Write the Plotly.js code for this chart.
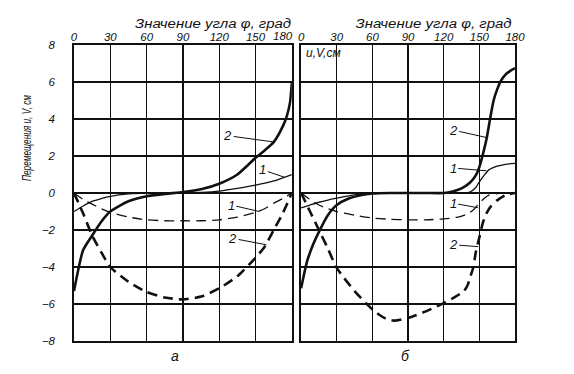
<!DOCTYPE html>
<html><head><meta charset="utf-8">
<script src="https://cdn.plot.ly/plotly-3.0.1.min.js"></script>
<style>body{margin:0;background:#fff}#c{width:574px;height:374px}</style>
</head><body><div id="c"></div>
<script>
// Panel а
const angA = [0, 7.5, 15, 22.5, 30, 45, 60, 75, 90, 105, 120, 135, 150, 157.5, 165, 172.5, 176, 178.5, 180];
const uA2  = [-5.3, -3.1, -2.3, -1.55, -1.0, -0.45, -0.18, -0.05, 0.05, 0.2, 0.5, 1.0, 1.9, 2.3, 2.75, 3.6, 4.2, 4.9, 6.0];
const angA1 = [0, 7.5, 15, 22.5, 30, 45, 60, 75, 90, 105, 120, 135, 150, 165, 180];
const uA1  = [-1.0, -0.7, -0.45, -0.3, -0.18, -0.05, 0.0, 0.0, 0.0, 0.03, 0.1, 0.25, 0.42, 0.65, 1.0];
const angAd = [0, 7.5, 15, 22.5, 30, 45, 60, 75, 90, 105, 120, 135, 150, 157.5, 165, 172.5, 180];
const vA1  = [0, -0.35, -0.6, -0.85, -1.05, -1.3, -1.45, -1.5, -1.5, -1.5, -1.45, -1.3, -1.05, -0.85, -0.55, -0.3, 0];
const vA2  = [0, -1.1, -2.3, -3.2, -4.0, -4.8, -5.35, -5.65, -5.75, -5.6, -5.15, -4.5, -3.5, -2.9, -2.0, -1.1, 0];

// Panel б
const angB2 = [0, 5, 10, 15, 22.5, 30, 40, 50, 60, 75, 90, 105, 120, 127.5, 135, 142, 147, 150, 153, 156, 159, 162, 165, 168, 172, 176, 180];
const uB2   = [-5.15, -3.7, -2.8, -2.1, -1.2, -0.65, -0.3, -0.12, -0.03, 0, 0, 0, 0, 0.08, 0.25, 0.55, 0.95, 1.4, 2.1, 2.9, 4.0, 5.0, 5.6, 6.05, 6.4, 6.6, 6.75];
const angB1 = [0, 7.5, 15, 22.5, 30, 45, 60, 75, 90, 105, 120, 135, 142, 147, 150, 154, 158, 165, 172, 180];
const uB1   = [-0.8, -0.65, -0.5, -0.38, -0.28, -0.1, -0.02, 0, 0, 0, 0, 0, 0.05, 0.3, 0.6, 0.95, 1.25, 1.45, 1.55, 1.6];
const angBd1 = [0, 7.5, 15, 22.5, 30, 45, 60, 75, 90, 105, 120, 132, 141, 146, 150, 154, 158, 165, 180];
const vB1    = [0, -0.35, -0.65, -0.85, -1.0, -1.2, -1.35, -1.42, -1.45, -1.45, -1.4, -1.3, -1.1, -0.85, -0.55, -0.3, -0.12, -0.03, 0];
const angBd2 = [0, 7.5, 15, 22.5, 30, 45, 60, 70, 78, 90, 105, 120, 130, 137, 140, 142, 145, 147, 150, 153, 156, 160, 165, 172, 180];
const vB2    = [0, -1.0, -2.0, -3.0, -4.05, -5.3, -6.3, -6.75, -6.9, -6.75, -6.4, -5.95, -5.6, -5.3, -5.0, -4.6, -4.0, -3.2, -2.4, -1.6, -1.1, -0.7, -0.4, -0.12, 0];

const xTicks = [0, 30, 60, 90, 120, 150, 180];
const xTickTextA = ['0', '30', '60', '90', '120', '150', ''];   // panel а's "180" is set slightly left, below
const xTickTextB = ['0', '30', '60', '90', '120', '150', '180'];
const lastTickA = '180';
const yTicks = [-8, -6, -4, -2, 0, 2, 4, 6, 8];
const xTitle = 'Значение угла φ, град';
const yTitle = 'Перемещения u, V, см';
const unitLabel = 'u,V,см';
const panelLabels = ['а', 'б'];

const K = '#111';
const thick = {color: K, width: 2.6, shape: 'spline', smoothing: 0.6};
const thin = {color: K, width: 1.3, shape: 'spline', smoothing: 0.6};
function tr(x, y, line, dash, ax) {
  return {x: x, y: y, type: 'scatter', mode: 'lines', xaxis: ax[0], yaxis: ax[1],
    line: Object.assign({}, line, {dash: dash}), hoverinfo: 'skip', showlegend: false};
}
const A = ['x', 'y'], B = ['x2', 'y2'];
const data = [
  tr(angA, uA2, thick, 'solid', A),
  tr(angA1, uA1, thin, 'solid', A),
  tr(angAd, vA1, thin, '10px,6px', A),
  tr(angAd, vA2, thick, '10px,6px', A),
  tr(angB2, uB2, thick, 'solid', B),
  tr(angB1, uB1, thin, 'solid', B),
  tr(angBd1, vB1, thin, '10px,6px', B),
  tr(angBd2, vB2, thick, '10px,6px', B)
];

const tickFont = {family: 'Liberation Sans, Arial, sans-serif', size: 11.5, color: K, style: 'italic'};
function xax(domain, anchor, ttext) {
  return {domain: domain, anchor: anchor, range: [0, 180], side: 'top', tickvals: xTicks,
    ticktext: ttext, showgrid: true, gridcolor: K, gridwidth: 1.2,
    showline: true, mirror: true, linecolor: K, linewidth: 1.8, zeroline: false,
    ticks: '', ticklabelstandoff: -2, tickfont: tickFont, fixedrange: true};
}
function yax(anchor, labels) {
  return {anchor: anchor, range: [-8, 8], tickvals: yTicks, showticklabels: labels,
    showgrid: true, gridcolor: K, gridwidth: 1.2, zeroline: true, zerolinecolor: K, zerolinewidth: 2.6,
    showline: true, mirror: true, linecolor: K, linewidth: 1.8,
    ticks: labels ? 'outside' : '', ticklen: 15, tickcolor: 'rgba(0,0,0,0)', tickfont: tickFont, fixedrange: true};
}

const annFont = {family: 'Liberation Sans, Arial, sans-serif', size: 13, color: K, style: 'italic'};
function lab(t, xr, yr, tx, ty, px, py) {
  return {text: t, xref: xr, yref: yr, x: px, y: py, axref: xr, ayref: yr, ax: tx, ay: ty,
    showarrow: true, arrowhead: 0, arrowwidth: 1, arrowcolor: K, font: annFont, standoff: 0, startstandoff: 0};
}
function pt(text, x, y, font, extra) {
  return Object.assign({text: text, xref: 'paper', yref: 'paper', x: x, y: y, xanchor: 'center', yanchor: 'middle',
    showarrow: false, font: font}, extra || {});
}
const titleFont = {family: 'Liberation Sans, Arial, sans-serif', size: 12, color: K, style: 'italic'};
const annotations = [
  pt(xTitle, 0.316, 1.07, titleFont),
  pt(xTitle, 0.816, 1.07, titleFont),
  pt(yTitle, -0.107, 0.686, {family: 'Liberation Sans, Arial, sans-serif', size: 13, color: K, style: 'italic'}, {textangle: -90}),
  pt(unitLabel, 0.522, 0.972, {family: 'Liberation Sans, Arial, sans-serif', size: 12, color: K, style: 'italic'}, {xanchor: 'left'}),
  pt(lastTickA, 173, 1.03, tickFont, {xref: 'x'}),
  pt(panelLabels[0], 0.229, -0.05, {family: 'Liberation Sans, Arial', size: 14, color: K, style: 'italic'}),
  pt(panelLabels[1], 0.751, -0.05, {family: 'Liberation Sans, Arial', size: 14, color: K, style: 'italic'}),
  lab('2', 'x', 'y', 127, 3.1, 166, 2.75),
  lab('1', 'x', 'y', 156, 1.25, 174, 0.85),
  lab('1', 'x', 'y', 130, -0.65, 153, -1.0),
  lab('2', 'x', 'y', 131, -2.45, 159, -2.8),
  lab('2', 'x2', 'y2', 128, 3.4, 156, 3.0),
  lab('1', 'x2', 'y2', 128, 1.35, 156, 1.2),
  lab('1', 'x2', 'y2', 128, -0.55, 149, -0.8),
  lab('2', 'x2', 'y2', 128, -2.8, 149, -2.9)
];

const layout = {
  width: 574, height: 374, margin: {l: 74, r: 59, t: 45, b: 33},
  paper_bgcolor: '#fff', plot_bgcolor: '#fff', showlegend: false,
  xaxis: xax([0, 0.494], 'y', xTickTextA), yaxis: yax('x', true),
  xaxis2: xax([0.515, 1], 'y2', xTickTextB), yaxis2: yax('x2', false),
  annotations: annotations
};
Plotly.newPlot('c', data, layout, {staticPlot: true}).then(function () {
  // condensed / spaced lettering of the titles, re-centred on their intended spots
  const gd = document.getElementById('c');
  const box = gd.getBoundingClientRect();
  const sz = gd._fullLayout._size;
  function toPx(px, py) { return [box.left + sz.l + px * sz.w, box.top + sz.t + (1 - py) * sz.h]; }
  const fits = [];
  document.querySelectorAll('.annotation-text').forEach(function (el) {
    if (el.textContent === yTitle) fits.push([el, 86, -0.107, 0.686]);
  });
  const xt = Array.from(document.querySelectorAll('.annotation-text')).filter(function (el) { return el.textContent === xTitle; });
  if (xt[0]) fits.push([xt[0], 156, 0.316, 1.07]);
  if (xt[1]) fits.push([xt[1], 156, 0.816, 1.07]);
  fits.forEach(function (f) {
    const el = f[0];
    el.setAttribute('textLength', String(f[1]));
    el.setAttribute('lengthAdjust', 'spacingAndGlyphs');
    const r = el.getBoundingClientRect();
    const c = toPx(f[2], f[3]);
    const dx = c[0] - (r.left + r.width / 2), dy = c[1] - (r.top + r.height / 2);
    const g = el.closest('g.annotation');
    const t0 = g.getAttribute('transform') || '';
    g.setAttribute('transform', 'translate(' + dx.toFixed(1) + ',' + dy.toFixed(1) + ') ' + t0);
  });
});
</script></body></html>
